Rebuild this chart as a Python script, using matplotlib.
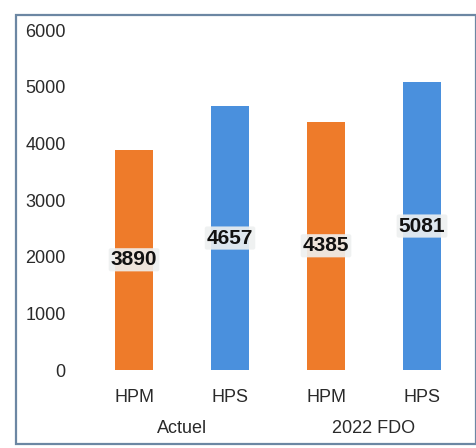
import matplotlib
matplotlib.use("Agg")
import matplotlib.pyplot as plt
from matplotlib.patches import Rectangle

plt.rcParams['font.family'] = ['Liberation Sans', 'DejaVu Sans']

categories = ["HPM", "HPS", "HPM", "HPS"]
groups = ["Actuel", "2022 FDO"]
values = [3890, 4657, 4385, 5081]
colors = ["#EE7B2A", "#4A90DD", "#EE7B2A", "#4A90DD"]
yticks = [0, 1000, 2000, 3000, 4000, 5000, 6000]

W, H = 476, 448
fig = plt.figure(figsize=(W / 100, H / 100), dpi=100)
fig.patch.set_facecolor("white")

# axes placed in pixel terms
left, right, bottom, top = 70, 470, 370, 30
ax = fig.add_axes([left / W, (H - bottom) / H, (right - left) / W, (bottom - top) / H])

x = list(range(len(values)))
ax.bar(x, values, width=0.4, color=colors)
ax.set_xlim(-0.667, 3.5)
ax.set_ylim(0, 6000)
ax.set_yticks(yticks)
ax.set_yticklabels([str(t) for t in yticks], fontsize=13, color="#2a2a2a")
ax.tick_params(axis="y", length=0, pad=3)
ax.set_xticks(x)
ax.set_xticklabels(categories, fontsize=13, color="#2a2a2a")
ax.tick_params(axis="x", length=0, pad=14)
for s in ax.spines.values():
    s.set_visible(False)

for xi, v in zip(x, values):
    ax.text(xi, v / 2, str(v), ha="center", va="center", fontsize=15,
            fontweight="bold", color="#111111",
            bbox=dict(boxstyle="round,pad=0.1", facecolor="#eef0f0",
                      edgecolor="none", alpha=0.9))

# group labels under each pair of bars
for gi, g in enumerate(groups):
    ax.text(2 * gi + 0.5, -0.171, g, transform=ax.get_xaxis_transform(),
            ha="center", va="center", fontsize=13, color="#2a2a2a")

# outer frame
fig.add_artist(Rectangle((16 / W, (H - 444) / H), (W - 16) / W, (444 - 15) / H,
                         transform=fig.transFigure, fill=False,
                         edgecolor="#6c87a3", linewidth=1.6))

fig.savefig("out.png", dpi=100)
